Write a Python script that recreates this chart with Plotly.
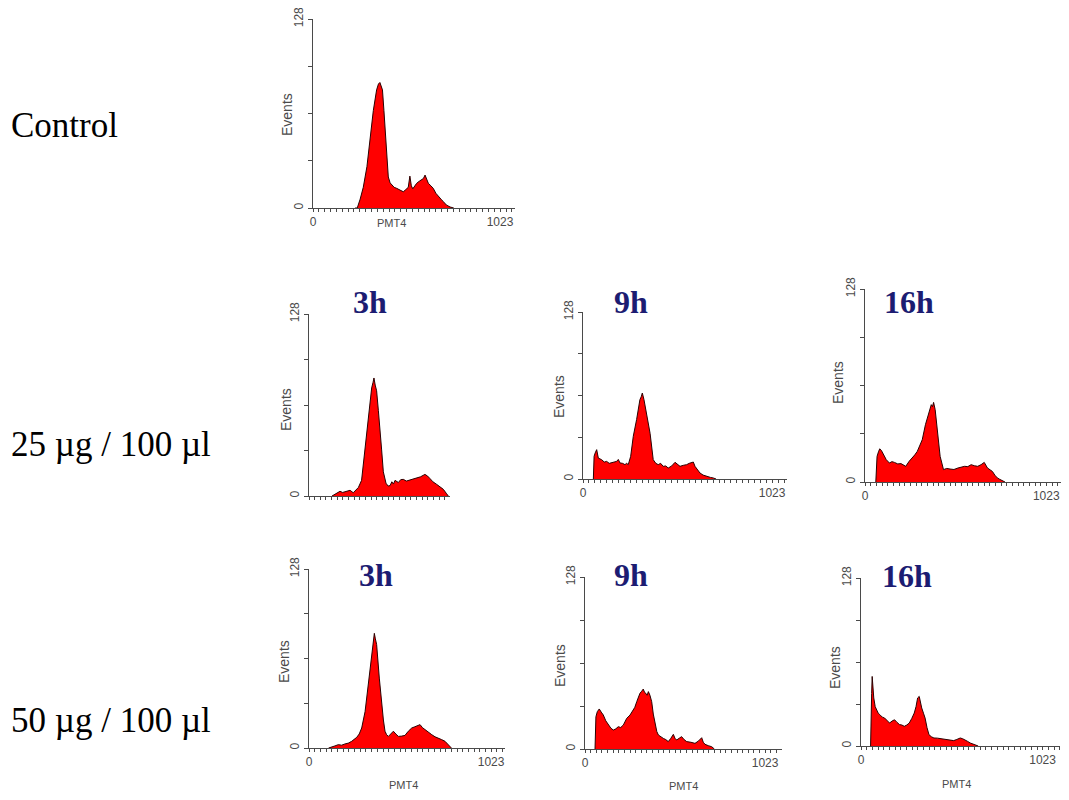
import plotly.graph_objects as go

# ---------------- data ----------------
ROW_LABELS = ["Control", "25 µg / 100 µl", "50 µg / 100 µl"]
TIME_LABELS = ["3h", "9h", "16h"]
X_AXIS_TITLE = "PMT4"
Y_AXIS_TITLE = "Events"
X_TICK_VALUES = [0, 1023]
X_TICK_LABELS = ["0", "1023"]
Y_TICK_VALUES = [0, 128]
Y_TICK_LABELS = ["0", "128"]

control_ch = [230, 242, 258, 275, 295, 312, 330, 348, 358, 366, 372, 380, 388, 394, 403, 412, 422, 430, 444, 458,
              476, 494, 508, 521, 530, 538, 546, 556, 567, 580, 594, 604, 613, 622, 631, 645, 658, 672, 686, 700,
              713, 730, 750, 770]
control_ev = [0, 0, 6, 14, 28, 46, 66, 80, 84, 85, 83, 80, 66, 55, 37, 21, 17, 15.6, 14, 13.3,
              12, 11, 12.5, 14, 21.6, 15, 13, 15, 16.7, 18, 19, 20, 22.3, 19, 16.7, 15, 13.3, 10, 7.7, 6,
              4.3, 2, 0.7, 0]

d25_3h_ch = [130, 147, 160, 175, 190, 213, 232, 250, 265, 279, 297, 316, 335, 354, 362, 367, 374, 382, 392, 401,
             410, 420, 435, 447, 458, 468, 477, 486, 495, 505, 518, 533, 550, 570, 590, 608, 630, 655, 670, 684,
             700, 721, 740, 759, 775, 787]
d25_3h_ev = [0, 1.2, 2.5, 3.3, 2.5, 3.3, 4, 2.3, 4, 6, 11, 32, 57, 76, 80, 83, 78, 74, 60, 49,
             33, 17, 9, 7, 7.3, 10, 8.4, 11, 10.5, 9.5, 11.5, 11.7, 10.5, 11.2, 12, 12.9, 13.5, 15.2, 14, 12.2,
             10, 8.2, 6.5, 4.7, 2, 0]

d25_9h_ch = [56, 60, 66, 74, 83, 92, 101, 115, 128, 142, 155, 168, 182, 191, 200, 214, 227, 236, 245, 258,
             272, 290, 308, 315, 321, 330, 345, 363, 380, 394, 407, 420, 434, 448, 461, 480, 498, 511, 525, 543,
             561, 575, 588, 597, 606, 620, 633, 650, 669, 690, 705, 720]
d25_9h_ev = [0, 17.4, 20, 22.5, 16, 15.5, 14.8, 13, 13.5, 12, 12.3, 13, 13.5, 15, 12.3, 12, 11, 12, 11, 17.4,
             32.7, 45.5, 60.8, 63, 65.9, 60.8, 48, 35, 14.8, 12, 11, 12, 9.7, 10, 8.4, 10, 12.8, 11, 9.7, 10.5,
             11, 12, 12.8, 13, 9.7, 7, 4.6, 3, 2, 1.2, 0.8, 0]

d25_16h_ch = [61, 68, 76, 83, 92, 101, 110, 120, 138, 152, 166, 185, 203, 216, 230, 249, 267, 281, 295, 309,
              323, 341, 360, 374, 381, 387, 396, 411, 424, 443, 461, 480, 502, 525, 543, 562, 580, 599, 617, 636,
              655, 673, 691, 705, 719, 733, 747, 760, 774, 790]
d25_16h_ev = [0, 17, 20, 22, 21, 19.2, 16.5, 14.8, 12.6, 13.5, 13, 12, 12.2, 11.5, 10.4, 13.7, 15.9, 18, 20.3, 24,
              28, 38, 45.7, 51.3, 50, 52.8, 48, 30.3, 17, 8.2, 9, 8.6, 8.3, 9.3, 9.8, 10.4, 10.2, 11.5, 10.8, 10.4,
              11.5, 13, 9.3, 8.4, 7, 4.5, 2.7, 1.8, 1.1, 0]

d50_3h_ch = [110, 127, 146, 165, 183, 202, 221, 240, 254, 268, 282, 296, 315, 334, 352, 360, 367, 373, 380, 395,
             408, 418, 427, 436, 446, 460, 474, 488, 502, 520, 539, 558, 577, 591, 605, 614, 624, 638, 652, 671,
             690, 708, 727, 745, 764, 780, 792, 800]
d50_3h_ev = [0, 0.5, 1.5, 2.4, 2, 2.9, 3.5, 4.8, 6, 7.6, 10, 14.3, 26, 45, 66.8, 72, 82, 78, 74, 50,
             31, 20, 12, 9.5, 8.3, 10, 12, 10, 8.3, 8.5, 9, 12, 14.3, 15, 15.5, 16.2, 16.7, 14.5, 13.1, 11,
             9.5, 8, 7.2, 6, 4.8, 2.5, 1.2, 0]

d50_9h_ch = [57, 62, 70, 81, 92, 104, 118, 133, 147, 161, 175, 189, 203, 218, 237, 256, 271, 283, 294, 303,
             312, 322, 331, 339, 346, 353, 360, 369, 379, 388, 398, 408, 417, 431, 445, 459, 473, 488, 502, 511,
             521, 535, 549, 563, 578, 602, 625, 645, 663, 672, 682, 700, 720, 735]
d50_9h_ev = [0, 24, 27.8, 29.8, 27.5, 25.3, 21, 17.9, 15.5, 14.1, 15, 16.6, 16, 17.9, 22.8, 25.3, 29, 31, 35.2, 38,
             41.4, 43, 44.6, 42, 41.4, 40, 42.7, 40, 35.2, 26, 17.9, 13, 10.4, 9, 7.9, 7, 5.5, 8, 10.9, 8,
             6.7, 8, 9.2, 7, 5.5, 5, 4.2, 6, 8.4, 5, 3.5, 2.5, 1.7, 0]

d50_16h_ch = [54, 56, 60, 63, 67, 72, 80, 87, 97, 106, 120, 133, 147, 161, 175, 189, 203, 217, 230, 244,
              258, 272, 286, 300, 310, 319, 328, 335, 342, 352, 361, 372, 383, 397, 411, 430, 448, 467, 485, 503,
              522, 540, 559, 573, 587, 601, 615, 629, 643, 660]
d50_16h_ev = [0, 26, 40, 53, 44, 36.6, 30, 27.7, 25, 23.9, 22, 21.3, 19, 17.5, 19, 20, 18, 16.3, 16, 15,
              16, 17.5, 21, 25.1, 30, 36.6, 37.8, 33, 29, 25, 21.3, 14, 8.6, 7, 6.1, 6, 5.6, 5, 4.8, 4.5,
              4.1, 5, 6.1, 5.5, 4.8, 3.5, 2.3, 1.5, 1, 0]

# ---------------- layout (pixel geometry of each panel in the 1069x800 page) ----------------
PAGE_W, PAGE_H = 1069, 800
BODY_MARGIN = 8                      # default page margin around the plot div
W, H = PAGE_W - 2 * BODY_MARGIN, PAGE_H - 2 * BODY_MARGIN   # fits the window: no scrollbars
RIGHT_EDGE = BODY_MARGIN + W

panels = [
    dict(ch=control_ch, ev=control_ev, x0=313, sx=0.1828, xend=515, ytop=19, ybase=208,
         xlabels=True, title=None, ev_pos=(287, 115), pmt_pos=(391, 223)),
    dict(ch=d25_3h_ch, ev=d25_3h_ev, x0=309, sx=0.177, xend=450, ytop=314, ybase=496,
         xlabels=False, title=(TIME_LABELS[0], 370, 302), ev_pos=(286, 410), pmt_pos=None),
    dict(ch=d25_9h_ch, ev=d25_9h_ev, x0=583, sx=0.1848, xend=787, ytop=312, ybase=479,
         xlabels=True, title=(TIME_LABELS[1], 631, 302), ev_pos=(559, 397), pmt_pos=None),
    dict(ch=d25_16h_ch, ev=d25_16h_ev, x0=865, sx=0.1772, xend=1065, ytop=289, ybase=482,
         xlabels=True, title=(TIME_LABELS[2], 909, 302), ev_pos=(838, 383), pmt_pos=None),
    dict(ch=d50_3h_ch, ev=d50_3h_ev, x0=309, sx=0.178, xend=505, ytop=569, ybase=748,
         xlabels=True, title=(TIME_LABELS[0], 376, 575), ev_pos=(284, 662), pmt_pos=(403, 785)),
    dict(ch=d50_9h_ch, ev=d50_9h_ev, x0=585, sx=0.176, xend=782, ytop=577, ybase=749,
         xlabels=True, title=(TIME_LABELS[1], 631, 575), ev_pos=(560, 666), pmt_pos=(683, 786)),
    dict(ch=d50_16h_ch, ev=d50_16h_ev, x0=861, sx=0.1775, xend=1060, ytop=578, ybase=746,
         xlabels=True, title=(TIME_LABELS[2], 907, 576), ev_pos=(835, 668), pmt_pos=(956, 784)),
]

AXIS_COLOR = "#4a4a4a"
SANS = "Liberation Sans, Arial, sans-serif"
SERIF = "Liberation Serif, Times New Roman, serif"
XTICK_FONT = dict(family=SANS, size=12, color="#4a4a4a")
YTICK_FONT = dict(family=SANS, size=12, color="#4a4a4a")
TITLE_COLOR = "#1c1c72"


def px(x):
    return (x - BODY_MARGIN) / W


def py(y):
    return 1 - (y - BODY_MARGIN) / H


fig = go.Figure()
layout = dict(
    width=W, height=H,
    margin=dict(l=0, r=0, t=0, b=0, pad=0, autoexpand=False),
    paper_bgcolor="white", plot_bgcolor="white",
    showlegend=False,
)
annotations = []

for i, p in enumerate(panels):
    n = "" if i == 0 else str(i + 1)
    xend = min(p["xend"], RIGHT_EDGE)
    xmax = (xend - p["x0"]) / p["sx"]
    fig.add_trace(go.Scatter(
        x=p["ch"], y=p["ev"], mode="lines",
        line=dict(color="#2a0000", width=1),
        fill="tozeroy", fillcolor="#ff0000",
        xaxis="x" + n, yaxis="y" + n, hoverinfo="skip",
    ))
    layout["xaxis" + n] = dict(
        domain=[px(p["x0"]), px(xend)], range=[0, xmax], anchor="y" + n,
        showline=True, linecolor=AXIS_COLOR, linewidth=1, showgrid=False, zeroline=False,
        tickmode="array", tickvals=X_TICK_VALUES,
        ticktext=X_TICK_LABELS if p["xlabels"] else ["", ""],
        ticks="outside", ticklen=3, tickcolor=AXIS_COLOR, tickfont=XTICK_FONT,
        ticklabeloverflow="allow",
        minor=dict(dtick=32, tick0=0, ticks="outside", ticklen=3, tickcolor=AXIS_COLOR),
        fixedrange=True, automargin=False,
    )
    layout["yaxis" + n] = dict(
        domain=[py(p["ybase"]), py(p["ytop"])], range=[0, 128], anchor="x" + n,
        showline=True, linecolor=AXIS_COLOR, linewidth=1, showgrid=False, zeroline=False,
        tickmode="array", tickvals=Y_TICK_VALUES, ticktext=Y_TICK_LABELS, tickangle=-90,
        ticks="outside", ticklen=4, tickcolor=AXIS_COLOR, tickfont=YTICK_FONT,
        ticklabeloverflow="allow",
        minor=dict(dtick=32, tick0=0, ticks="outside", ticklen=4, tickcolor=AXIS_COLOR),
        fixedrange=True, automargin=False,
    )
    ex, ey = p["ev_pos"]
    annotations.append(dict(
        x=px(ex), y=py(ey), xref="paper", yref="paper", text=Y_AXIS_TITLE, showarrow=False,
        textangle=-90, xanchor="center", yanchor="middle",
        font=dict(family=SANS, size=14, color="#4a4a4a"),
    ))
    if p["pmt_pos"]:
        mx, my = p["pmt_pos"]
        annotations.append(dict(
            x=px(mx), y=py(my), xref="paper", yref="paper", text=X_AXIS_TITLE, showarrow=False,
            xanchor="center", yanchor="middle",
            font=dict(family=SANS, size=11, color="#4a4a4a"),
        ))
    if p["title"]:
        t, tx, ty = p["title"]
        annotations.append(dict(
            x=px(tx), y=py(ty), xref="paper", yref="paper", text="<b>%s</b>" % t, showarrow=False,
            xanchor="center", yanchor="middle",
            font=dict(family=SERIF, size=32, color=TITLE_COLOR),
        ))

row_label_y = [125, 444, 720]
for lab, ly in zip(ROW_LABELS, row_label_y):
    annotations.append(dict(
        x=px(9), y=py(ly), xref="paper", yref="paper", text=lab, showarrow=False,
        xanchor="left", yanchor="middle",
        font=dict(family=SERIF, size=35, color="black"),
    ))

layout["annotations"] = annotations
fig.update_layout(**layout)
fig.write_html("out.html")
